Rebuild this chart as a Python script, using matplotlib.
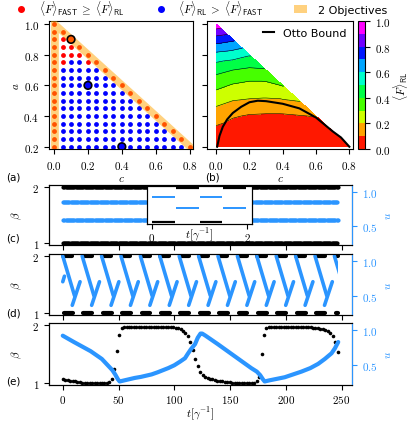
import numpy as np
import matplotlib

matplotlib.use("Agg")
import matplotlib.pyplot as plt
import matplotlib.tri as mtri
from matplotlib.lines import Line2D
from matplotlib.patches import Patch, Polygon, Rectangle
from matplotlib.ticker import FuncFormatter

plt.rcParams["mathtext.fontset"] = "cm"
plt.rcParams["font.size"] = 8

BLUE_U = "#2b95ff"

# ---- panel (a): grid of (c, a) settings and which method wins
c_grid = np.round(np.arange(0.0, 0.801, 0.05), 2)
a_grid = np.round(np.arange(0.2, 1.001, 0.05), 2)
fast_interior = [(0.05, 0.9), (0.05, 0.85), (0.1, 0.85), (0.05, 0.8),
                 (0.1, 0.8), (0.15, 0.8), (0.05, 0.75), (0.2, 0.75)]
highlighted_c = [0.1, 0.2, 0.4]
highlighted_a = [0.9, 0.6, 0.2]
highlighted_face = ["#ff5a00", "#0000ff", "#0000ff"]

# ---- panel (b): <F>_RL read on a coarse grid, one list per c column (a = 0.2, 0.3, ...)
b_c = [0.0, 0.1, 0.2, 0.3, 0.4, 0.5, 0.6, 0.7, 0.8]
b_F = [
    [0.00, 0.07, 0.15, 0.23, 0.33, 0.43, 0.57, 0.75, 0.97],
    [0.00, 0.04, 0.11, 0.20, 0.29, 0.40, 0.55, 0.72],
    [0.00, 0.03, 0.09, 0.19, 0.27, 0.38, 0.51],
    [0.00, 0.03, 0.085, 0.185, 0.27, 0.39],
    [0.00, 0.03, 0.085, 0.19, 0.305],
    [0.00, 0.03, 0.095, 0.205],
    [0.00, 0.04, 0.105],
    [0.00, 0.05],
    [0.00],
]
otto_c = [0.006, 0.02, 0.04, 0.066, 0.1, 0.15, 0.2, 0.25, 0.3, 0.4, 0.5, 0.6, 0.7, 0.75, 0.8]
otto_a = [0.20, 0.27, 0.33, 0.378, 0.42, 0.46, 0.49, 0.50, 0.497, 0.48, 0.45, 0.39, 0.30, 0.26, 0.20]

# ---- time traces
t_end = 247.0

# (c) fast switching, one period
c_step = 0.5
c_beta_cycle = [1, 2]
c_u_cycle = [0.85, 0.585]

# (d) repeating cycle
d_period = 17.4
d_beta_top_span = [0.5, 8.5]
d_beta_bot_span = [1.0, 9.0]
d_u_down_t = [0.0, 10.5]
d_u_down = [1.07, 0.50]
d_u_up_t = [8.5, 15.5]
d_u_up = [0.36, 0.70]
d_u_first_t = [0.0, 1.5]
d_u_first = [0.70, 0.78]

# (e) slow cycle
e_dt = 2.2
e_beta = [
    1.07, 1.06, 1.05, 1.04, 1.035, 1.03, 1.02, 1.015, 1.01, 1.01,
    1.005, 1.0, 1.0, 1.0, 1.0, 1.0, 1.0, 1.0, 1.005, 1.02,
    1.07, 1.24, 1.55, 1.83, 1.94, 1.96, 1.965, 1.97, 1.97, 1.97,
    1.97, 1.97, 1.97, 1.97, 1.97, 1.97, 1.97, 1.97, 1.97, 1.97,
    1.97, 1.97, 1.97, 1.965, 1.96, 1.955, 1.95, 1.94, 1.92, 1.895,
    1.86, 1.80, 1.70, 1.56, 1.42, 1.29, 1.19, 1.14, 1.11, 1.09,
    1.075, 1.065, 1.055, 1.045, 1.04, 1.03, 1.025, 1.02, 1.015, 1.01,
    1.01, 1.005, 1.0, 1.0, 1.0, 1.0, 1.0, 1.0, 1.01, 1.04,
    1.10, 1.50, 1.82, 1.94, 1.96, 1.97, 1.97, 1.97, 1.97, 1.97,
    1.97, 1.97, 1.97, 1.97, 1.97, 1.97, 1.97, 1.97, 1.97, 1.965,
    1.96, 1.955, 1.95, 1.945, 1.94, 1.93, 1.92, 1.905, 1.885, 1.86,
    1.80, 1.70, 1.54,
]
e_u_t = [0, 10, 25, 35, 44.5, 47, 49.5, 51, 55, 64.5, 70, 79.6, 85, 94.6, 100,
         105, 109.6, 112, 115, 118.6, 121, 123.5, 125, 128, 139, 154, 169, 174,
         177, 179.5, 181, 185, 199, 214, 222, 229, 235, 241, 244, 247]
e_u = [0.92, 0.83, 0.70, 0.59, 0.43, 0.37, 0.30, 0.27, 0.285, 0.32, 0.335, 0.37,
       0.40, 0.46, 0.50, 0.55, 0.60, 0.66, 0.73, 0.80, 0.89, 0.95, 0.95, 0.92,
       0.80, 0.63, 0.46, 0.41, 0.36, 0.30, 0.27, 0.285, 0.33, 0.41, 0.46, 0.52,
       0.59, 0.67, 0.74, 0.83]

W, H = 411, 427
fig = plt.figure(figsize=(W / 100, H / 100), dpi=100)


def box(x0, y0, x1, y1):
    return [x0 / W, 1 - y1 / H, (x1 - x0) / W, (y1 - y0) / H]


def cm_fmt(fmt):
    return FuncFormatter(lambda v, _: "$" + format(v, fmt) + "$")


def label(x, y, s):
    fig.text(x / W, 1 - y / H, s, fontsize=7.5, va="center", ha="left")


# ---------------- (a)
ax_a = fig.add_axes(box(49, 22, 193, 150))
cc, aa = np.meshgrid(c_grid, a_grid)
cc, aa = cc.ravel(), aa.ravel()
keep = cc + aa <= 1.0 + 1e-9
cc, aa = cc[keep], aa[keep]
fast = np.array([
    c == 0 or abs(c + a - 1) < 1e-9 or any(abs(c - fc) < 1e-9 and abs(a - fa) < 1e-9
                                          for fc, fa in fast_interior)
    for c, a in zip(cc, aa)
])
ax_a.scatter(cc[fast], aa[fast], s=12, color="#ff0000", lw=0, zorder=2)
ax_a.scatter(cc[~fast], aa[~fast], s=12, color="#0000ff", lw=0, zorder=2)
band = Polygon([(-0.018, 0.1), (0.028, 0.1), (0.028, 0.942), (0.9, 0.07),
                (0.9, 0.135), (-0.018, 1.053)], closed=True,
               facecolor="#ffa500", alpha=0.5, lw=0, zorder=3)
ax_a.add_patch(band)
ax_a.scatter(highlighted_c, highlighted_a, s=30, c=highlighted_face,
             edgecolors="k", linewidths=1.2, zorder=4)
ax_a.set_xlim(-0.03, 0.82)
ax_a.set_ylim(0.185, 1.02)
ax_a.set_xticks([0, 0.2, 0.4, 0.6, 0.8])
ax_a.set_yticks([0.2, 0.4, 0.6, 0.8, 1.0])
ax_a.xaxis.set_major_formatter(cm_fmt(".1f"))
ax_a.yaxis.set_major_formatter(cm_fmt(".1f"))
ax_a.set_xlabel("$c$", labelpad=2)
ax_a.set_ylabel("$a$", labelpad=2)

# ---------------- (b)
ax_b = fig.add_axes(box(207, 22, 353, 150))
pts_c, pts_a, pts_F = [], [], []
for c, col in zip(b_c, b_F):
    for k, f in enumerate(col):
        pts_c.append(c)
        pts_a.append(0.2 + 0.1 * k)
        pts_F.append(f)
triang = mtri.Triangulation(pts_c, pts_a)
levels = np.linspace(0, 1, 11)
cf = ax_b.tricontourf(triang, pts_F, levels=levels, cmap="gist_rainbow")
ax_b.tricontour(triang, pts_F, levels=levels[1:-1], colors="k", linewidths=0.4)
ax_b.plot(otto_c, otto_a, color="k", lw=1.5, label="Otto Bound")
ax_b.legend(loc="upper right", frameon=False, fontsize=8, handlelength=1.0,
            borderaxespad=0.2)
ax_b.set_xlim(-0.055, 0.822)
ax_b.set_ylim(0.185, 1.02)
ax_b.set_xticks([0, 0.2, 0.4, 0.6, 0.8])
ax_b.set_yticks([0.2, 0.4, 0.6, 0.8, 1.0])
ax_b.set_yticklabels([])
ax_b.xaxis.set_major_formatter(cm_fmt(".1f"))
ax_b.set_xlabel("$c$", labelpad=2)

cax = fig.add_axes(box(358, 22, 365, 150))
cb = fig.colorbar(cf, cax=cax, ticks=[0, 0.2, 0.4, 0.6, 0.8, 1.0])
cb.ax.yaxis.set_major_formatter(cm_fmt(".1f"))
cb.set_label(r"$\langle F\rangle_{\mathsf{RL}}$", labelpad=0)

label(6, 178, "(a)")
label(205, 178, "(b)")


# ---------------- (c), (d), (e)
def twin(ax):
    ax2 = ax.twinx()
    ax2.set_ylim(0.22, 1.10)
    ax2.set_yticks([0.5, 1.0])
    ax2.yaxis.set_major_formatter(cm_fmt(".1f"))
    ax2.tick_params(axis="y", colors=BLUE_U)
    ax2.spines["right"].set_color(BLUE_U)
    ax2.set_ylabel("$u$", color=BLUE_U, labelpad=4)
    return ax2


def base(ax, show_x):
    ax.set_xlim(-12.35, 259.35)
    ax.set_ylim(0.97, 2.03)
    ax.set_yticks([1, 2])
    ax.yaxis.set_major_formatter(cm_fmt(".0f"))
    ax.set_xticks([0, 50, 100, 150, 200, 250])
    if show_x:
        ax.xaxis.set_major_formatter(cm_fmt(".0f"))
    else:
        ax.set_xticklabels([])
    ax.set_ylabel(r"$\beta$", labelpad=6)


ax_c = fig.add_axes(box(49, 186, 352, 246))
n_c = int(t_end / c_step)
t_c = np.arange(n_c) * c_step
beta_c = np.resize(c_beta_cycle, n_c)
u_c = np.resize(c_u_cycle, n_c)
ax_c.plot(t_c, beta_c, "o", color="k", ms=3, mew=0)
base(ax_c, False)
ax_c2 = twin(ax_c)
ax_c2.plot(t_c, u_c, "o", color=BLUE_U, ms=3, mew=0)

ax_in = fig.add_axes(box(147, 187, 252, 225))
ax_in.set_zorder(5)
inset = t_c < 2
ax_in.hlines(beta_c[inset], t_c[inset], t_c[inset] + 0.48, color="k", lw=1.6)
ax_in.set_xlim(-0.1, 2.1)
ax_in.set_ylim(0.95, 2.05)
ax_in.set_yticks([])
ax_in.set_xticks([0, 2])
ax_in.xaxis.set_major_formatter(cm_fmt(".0f"))
ax_in.tick_params(axis="x", pad=1.5)
ax_in2 = ax_in.twinx()
ax_in2.hlines(u_c[inset], t_c[inset], t_c[inset] + 0.48, color=BLUE_U, lw=1.4)
ax_in2.set_ylim(0.22, 1.10)
ax_in2.set_yticks([])
ax_in.set_xlabel(r"$t[\gamma^{-1}]$")
ax_in.xaxis.set_label_coords(0.5, -0.06)

ax_d = fig.add_axes(box(49, 255, 352, 316))
base(ax_d, False)
ax_d2 = twin(ax_d)
clip_d = Rectangle((-20, -5), 20 + t_end, 10, transform=ax_d2.transData)
ax_d2.plot(d_u_first_t, d_u_first, color=BLUE_U, lw=2.6, solid_capstyle="round")
n_d = int(np.ceil(t_end / d_period))
for k in range(n_d):
    t0 = k * d_period
    ax_d.plot([t0 + d_beta_top_span[0], min(t0 + d_beta_top_span[1], t_end)],
              [2, 2], color="k", lw=3, solid_capstyle="round")
    ax_d.plot([t0 + d_beta_bot_span[0], min(t0 + d_beta_bot_span[1], t_end)],
              [1, 1], color="k", lw=3, solid_capstyle="round")
    down, = ax_d2.plot(np.array(d_u_down_t) + t0, d_u_down, color=BLUE_U,
                       lw=2.6, solid_capstyle="round")
    down.set_clip_path(clip_d)
    if t0 + d_u_up_t[1] <= t_end:
        ax_d2.plot(np.array(d_u_up_t) + t0, d_u_up, color=BLUE_U, lw=2.6,
                   solid_capstyle="round")

ax_e = fig.add_axes(box(49, 324, 352, 386))
t_e = np.arange(len(e_beta)) * e_dt
ax_e.plot(t_e, e_beta, "o", color="k", ms=2.6, mew=0)
base(ax_e, True)
ax_e.tick_params(axis="x", pad=2)
ax_e.set_xlabel(r"$t[\gamma^{-1}]$", labelpad=0)
ax_e2 = twin(ax_e)
ax_e2.plot(e_u_t, e_u, color=BLUE_U, lw=3, solid_capstyle="round")

label(6, 239, "(c)")
label(6, 313, "(d)")
label(6, 382, "(e)")

# ---------------- top legend
handles = [
    Line2D([], [], ls="none", marker="o", ms=4, color="#ff0000"),
    Line2D([], [], ls="none", marker="o", ms=4, color="#0000ff"),
    Patch(facecolor="#ffa500", alpha=0.5, lw=0),
]
labels = [
    r"$\langle F\rangle_{\mathsf{FAST}}\;\geq\;\langle F\rangle_{\mathsf{RL}}$",
    r"$\langle F\rangle_{\mathsf{RL}}\;>\;\langle F\rangle_{\mathsf{FAST}}$",
    "2 Objectives",
]
fig.legend(handles, labels, loc="upper left", bbox_to_anchor=(10 / W, 1.012),
           ncol=3, frameon=False, fontsize=8, handlelength=1.2,
           handletextpad=1.0, columnspacing=2.7, borderaxespad=0)

fig.savefig("out.png", dpi=100)
